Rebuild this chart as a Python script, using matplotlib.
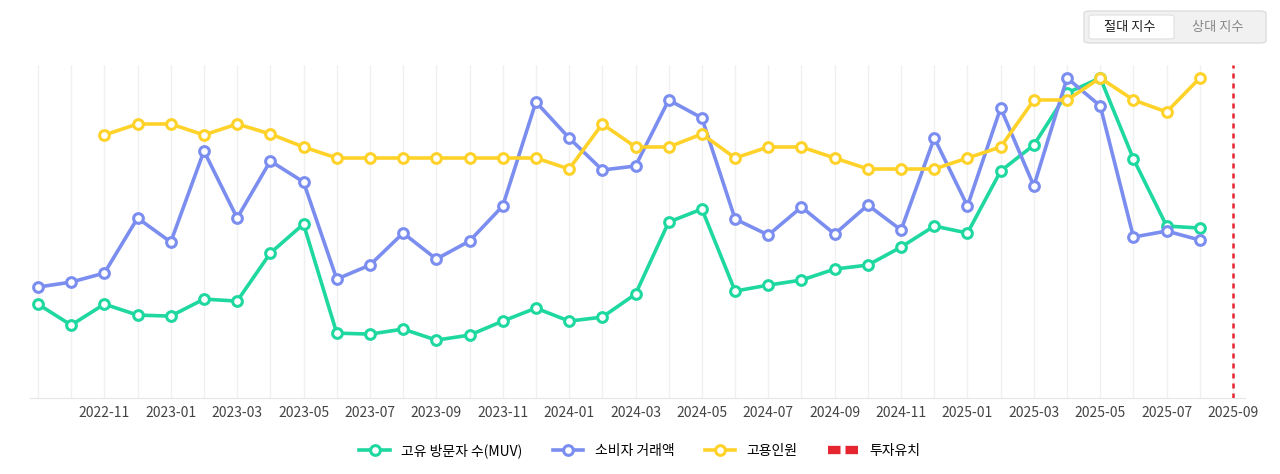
import matplotlib.pyplot as plt
from matplotlib.patches import FancyBboxPatch
from matplotlib.lines import Line2D

plt.rcParams['font.family'] = ['Noto Sans CJK KR', 'DejaVu Sans']

months = ['2022-09', '2022-10', '2022-11', '2022-12', '2023-01', '2023-02', '2023-03', '2023-04',
          '2023-05', '2023-06', '2023-07', '2023-08', '2023-09', '2023-10', '2023-11', '2023-12',
          '2024-01', '2024-02', '2024-03', '2024-04', '2024-05', '2024-06', '2024-07', '2024-08',
          '2024-09', '2024-10', '2024-11', '2024-12', '2025-01', '2025-02', '2025-03', '2025-04',
          '2025-05', '2025-06', '2025-07', '2025-08', '2025-09']
# 지수 (상대 높이)
muv = [96, 75, 96, 85, 84, 101, 99, 147, 176, 67, 66, 71, 60, 65, 79, 92, 79, 83, 106, 178,
       191, 109, 115, 120, 131, 135, 153, 174, 167, 229, 255, 307, 322, 241, 174, 172]
sales = [113, 118, 127, 182, 158, 249, 182, 239, 218, 121, 135, 167, 141, 159, 194, 298, 262,
         230, 234, 300, 282, 181, 165, 193, 166, 195, 170, 262, 194, 292, 214, 322, 294, 163,
         169, 160]
employ = [265, 276, 276, 265, 276, 266, 253, 242, 242, 242, 242, 242, 242, 242, 231, 276, 253,
          253, 266, 242, 253, 253, 242, 231, 231, 231, 242, 253, 300, 300, 322, 300, 288, 322]
invest_month = '2025-09'

x = list(range(len(months)))
fig = plt.figure(figsize=(12.8, 4.74), dpi=100)
ax = fig.add_axes([30/1280, 0.160, 1215/1280, 0.703])

green, blue, yellow, red = '#1ed8a0', '#7b8ef0', '#ffd22a', '#e5252f'
mk = dict(marker='o', markersize=7, markerfacecolor='white', markeredgewidth=2.2, linewidth=2.6)
ax.plot(x[:len(muv)], muv, color=green, **mk)
ax.plot(x[:len(sales)], sales, color=blue, **mk)
ax.plot(x[2:2 + len(employ)], employ, color=yellow, **mk)
ax.axvline(months.index(invest_month), color=red, linestyle=(0, (2, 2)), linewidth=1.8)

ax.set_xlim(-0.24, 36.36)
ax.set_ylim(2, 335)
ax.set_xticks(x)
ax.set_xticklabels([m if i % 2 == 0 and i > 0 else '' for i, m in enumerate(months)],
                   fontsize=10, color='#444444')
ax.tick_params(axis='x', length=0, pad=6)
ax.set_yticks([])
ax.grid(axis='x', color='#f0f0f0', linewidth=1)
for s in ['top', 'right', 'left']:
    ax.spines[s].set_visible(False)
ax.spines['bottom'].set_color('#e5e5e5')

handles = [Line2D([], [], color=green, **mk),
           Line2D([], [], color=blue, **mk),
           Line2D([], [], color=yellow, **mk),
           Line2D([], [], color=red, linestyle=(0, (1.5, 0.6)), linewidth=6)]
fig.legend(handles, ['고유 방문자 수(MUV)', '소비자 거래액', '고용인원', '투자유치'],
           loc='center', bbox_to_anchor=(0.5, 0.05), ncol=4, frameon=False, fontsize=10,
           handlelength=2.2, columnspacing=2.2)

# 상단 버튼
fig.patches.append(FancyBboxPatch((1084/1280, 1 - 43/474), 182/1280, 32/474,
                                  boxstyle='round,pad=0,rounding_size=0.005',
                                  transform=fig.transFigure, facecolor='#f1f1f1',
                                  edgecolor='#dddddd', linewidth=1))
fig.patches.append(FancyBboxPatch((1089/1280, 1 - 39/474), 85/1280, 24/474,
                                  boxstyle='round,pad=0,rounding_size=0.004',
                                  transform=fig.transFigure, facecolor='white',
                                  edgecolor='#e0e0e0', linewidth=0.8))
fig.text(1130/1280, 1 - 28/474, '절대 지수', ha='center', va='center', fontsize=9.5, color='#222222')
fig.text(1218/1280, 1 - 28/474, '상대 지수', ha='center', va='center', fontsize=9.5, color='#888888')

fig.savefig('out.png', dpi=100)
